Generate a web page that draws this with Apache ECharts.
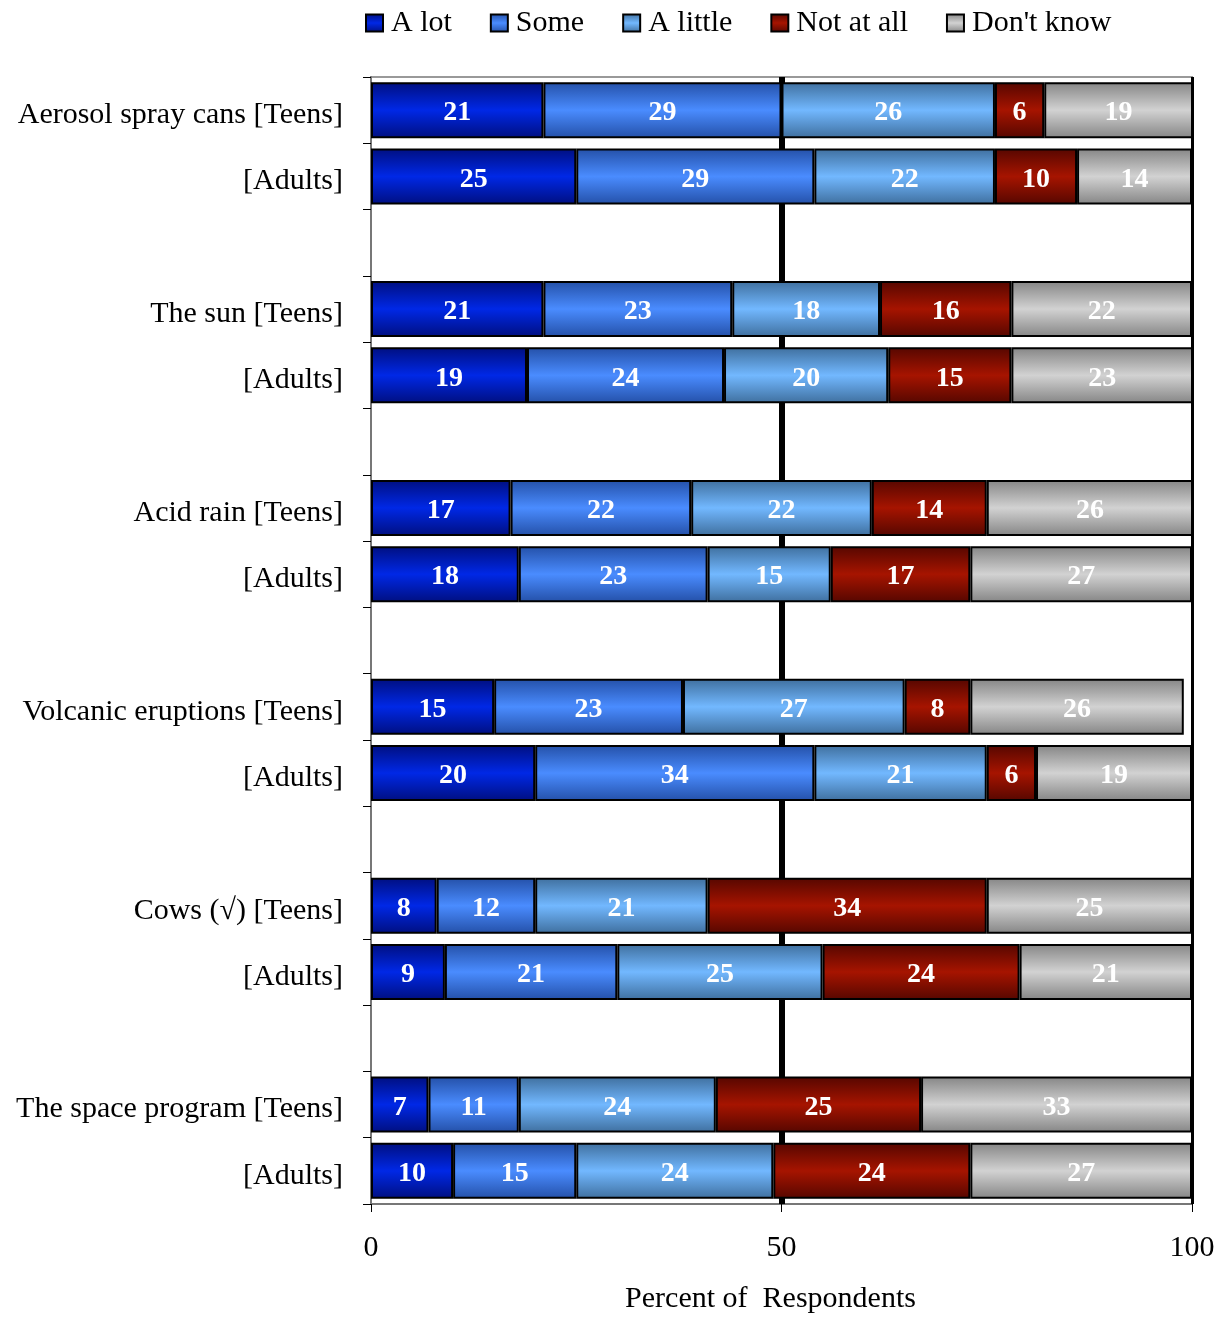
<!DOCTYPE html>
<html>
<head>
<meta charset="utf-8">
<title>Percent of Respondents</title>
<script src="https://cdn.jsdelivr.net/npm/echarts@6/dist/echarts.min.js"></script>
<style>
  html, body { margin: 0; padding: 0; background: #fff; }
  #chart { width: 1225px; height: 1319px; }
</style>
</head>
<body>
<div id="chart"></div>
<script>
// Row labels (blank rows separate the topic groups)
const categories = [
  'Aerosol spray cans [Teens]', '[Adults]', '',
  'The sun [Teens]', '[Adults]', '',
  'Acid rain [Teens]', '[Adults]', '',
  'Volcanic eruptions [Teens]', '[Adults]', '',
  'Cows (\u221A) [Teens]', '[Adults]', '',
  'The space program [Teens]', '[Adults]'
];

const seriesNames = ['A lot', 'Some', 'A little', 'Not at all', "Don't know"];

// Percent per answer, one entry per row ('-' = blank row)
const aLot     = [21, 25, '-', 21, 19, '-', 17, 18, '-', 15, 20, '-',  8,  9, '-',  7, 10];
const some     = [29, 29, '-', 23, 24, '-', 22, 23, '-', 23, 34, '-', 12, 21, '-', 11, 15];
const aLittle  = [26, 22, '-', 18, 20, '-', 22, 15, '-', 27, 21, '-', 21, 25, '-', 24, 24];
const notAtAll = [ 6, 10, '-', 16, 15, '-', 14, 17, '-',  8,  6, '-', 34, 24, '-', 25, 24];
const dontKnow = [19, 14, '-', 22, 23, '-', 26, 27, '-', 26, 19, '-', 25, 21, '-', 33, 27];

const xTicks = [0, 50, 100];

const values = [aLot, some, aLittle, notAtAll, dontKnow];

// Shaded fills: darker at the bar edges, lighter across the middle
const shades = [
  ['#000f80', '#0028e6'],
  ['#2450a8', '#4a8cff'],
  ['#3f6f9e', '#72b8ff'],
  ['#560700', '#a61400'],
  ['#858585', '#d2d2d2']
];
function shade(pair) {
  return {
    type: 'linear', x: 0, y: 0, x2: 0, y2: 1,
    colorStops: [
      { offset: 0, color: pair[0] },
      { offset: 0.5, color: pair[1] },
      { offset: 1, color: pair[0] }
    ]
  };
}

const serif = '"Liberation Serif", "DejaVu Serif", serif';

const series = values.map((data, i) => ({
  name: seriesNames[i],
  type: 'bar',
  stack: 'total',
  barWidth: 56,
  z: 3,
  data: data,
  itemStyle: { color: shade(shades[i]), borderColor: '#000', borderWidth: 2 },
  label: {
    show: true,
    position: 'inside',
    offset: [0, 3],
    color: '#fff',
    fontFamily: serif,
    fontWeight: 'bold',
    fontSize: 28
  }
}));

// Reference lines at 50 and 100, drawn beneath the bars
series.push({
  name: 'ref',
  type: 'line',
  data: [],
  z: 1,
  markLine: {
    z: 1,
    silent: true,
    symbol: 'none',
    label: { show: false },
    data: [
      { xAxis: xTicks[1], lineStyle: { color: '#000', width: 6, type: 'solid' } },
      { xAxis: xTicks[2], lineStyle: { color: '#000', width: 3, type: 'solid' } }
    ]
  }
});

const chart = echarts.init(document.getElementById('chart'), null, { renderer: 'canvas' });
chart.setOption({
  animation: false,
  backgroundColor: '#fff',
  legend: {
    data: seriesNames,
    top: 3,
    left: 360,
    itemWidth: 17,
    itemHeight: 17,
    itemGap: 38,
    icon: 'rect',
    textStyle: { fontFamily: serif, fontSize: 30, color: '#000', padding: [0, 0, 0, 3] },
    itemStyle: { borderColor: '#000', borderWidth: 2 }
  },
  grid: {
    left: 371, right: 33, top: 77, bottom: 109,
    show: true,
    borderColor: '#999',
    borderWidth: 2
  },
  xAxis: {
    type: 'value',
    min: 0,
    max: 100,
    interval: 50,
    name: 'Percent of  Respondents',
    nameLocation: 'middle',
    nameGap: 80,
    nameTextStyle: { fontFamily: serif, fontSize: 30, color: '#000', padding: [0, 22, 0, 0] },
    axisLine: { show: true, lineStyle: { color: '#777', width: 2 } },
    axisTick: { show: true, length: 8, lineStyle: { color: '#000', width: 1 } },
    axisLabel: { fontFamily: serif, fontSize: 30, color: '#000', margin: 29 },
    splitLine: { show: false }
  },
  yAxis: {
    type: 'category',
    inverse: true,
    data: categories,
    axisLine: { show: true, lineStyle: { color: '#777', width: 2 } },
    axisTick: { show: true, length: 8, alignWithLabel: false, lineStyle: { color: '#000', width: 1 } },
    axisLabel: {
      color: '#000', margin: 28, interval: 0,
      formatter: (v) => v ? '{t|' + v + '}' : '',
      rich: { t: { fontFamily: serif, fontSize: 30, color: '#000', padding: [10, 0, 0, 0] } }
    },
    splitLine: { show: false }
  },
  series: series
});
</script>
</body>
</html>
